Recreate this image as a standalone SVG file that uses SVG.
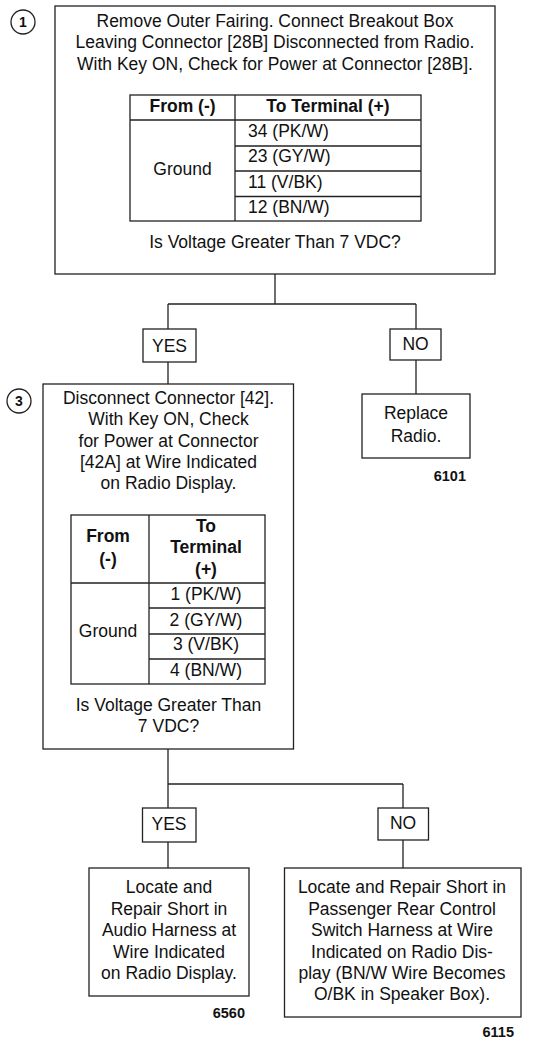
<svg xmlns="http://www.w3.org/2000/svg" width="552" height="1041" viewBox="0 0 552 1041">
<style>
.b{fill:#fff;stroke:#222;stroke-width:1.3}
.l{fill:none;stroke:#222;stroke-width:1.3}
text{font-family:"Liberation Sans",Arial,sans-serif;font-size:17.5px;fill:#111}
.c{text-anchor:middle}
.r{text-anchor:end}
.bd{font-weight:bold}
.n{font-weight:bold;font-size:14.5px}
.cn{font-weight:bold;font-size:14px;text-anchor:middle}
</style>
<rect width="552" height="1041" fill="#fff"/>
<g id="connectors">
<path class="l" d="M275,274V304M168,304H416M168,304V329M416,304V329M168,362V384M416,360V394"/>
<path class="l" d="M168,749V784M168,784H403M168,784V808M403,784V808M168,842V868M403,840V868"/>
</g>
<g id="step1">
<circle class="l" cx="23" cy="22" r="12"/>
<text class="cn" x="23" y="27">1</text>
<rect class="b" x="55" y="6" width="440" height="268"/>
<text class="c" x="275" y="27">Remove Outer Fairing. Connect Breakout Box</text>
<text class="c" x="275" y="48">Leaving Connector [28B] Disconnected from Radio.</text>
<text class="c" x="275" y="70">With Key ON, Check for Power at Connector [28B].</text>
<rect class="l" x="130" y="95" width="291" height="126"/>
<path class="l" d="M235,95V221M130,120H421M235,146H421M235,171H421M235,196.5H421"/>
<text class="c bd" x="182.5" y="112">From (-)</text>
<text class="c bd" x="328" y="112">To Terminal (+)</text>
<text class="c" x="182.5" y="175">Ground</text>
<text x="248" y="137">34 (PK/W)</text>
<text x="248" y="162">23 (GY/W)</text>
<text x="248" y="188">11 (V/BK)</text>
<text x="248" y="213">12 (BN/W)</text>
<text class="c" x="275" y="248">Is Voltage Greater Than 7 VDC?</text>
</g>
<g id="yes1">
<rect class="b" x="143" y="329" width="53" height="33"/>
<text class="c" x="169.5" y="352">YES</text>
</g>
<g id="no1">
<rect class="b" x="390" y="329" width="51" height="31"/>
<text class="c" x="415.5" y="350">NO</text>
</g>
<g id="replace">
<rect class="b" x="362" y="394" width="108" height="64"/>
<text class="c" x="416" y="419">Replace</text>
<text class="c" x="416" y="442">Radio.</text>
<text class="n r" x="466" y="481">6101</text>
</g>
<g id="step3">
<circle class="l" cx="19" cy="401" r="12"/>
<text class="cn" x="19" y="406">3</text>
<rect class="b" x="43" y="384" width="250.5" height="365"/>
<text class="c" x="168.5" y="404">Disconnect Connector [42].</text>
<text class="c" x="168.5" y="425">With Key ON, Check</text>
<text class="c" x="168.5" y="446.5">for Power at Connector</text>
<text class="c" x="168.5" y="467.5">[42A] at Wire Indicated</text>
<text class="c" x="168.5" y="488.5">on Radio Display.</text>
<rect class="l" x="71" y="515" width="194" height="169"/>
<path class="l" d="M149,515V684M71,583H265M149,608H265M149,634H265M149,659H265"/>
<text class="c bd" x="108" y="541.5">From</text>
<text class="c bd" x="108" y="565">(-)</text>
<text class="c bd" x="206" y="531.5">To</text>
<text class="c bd" x="206" y="552.5">Terminal</text>
<text class="c bd" x="206" y="575">(+)</text>
<text class="c" x="108" y="637">Ground</text>
<text class="c" x="206" y="600">1 (PK/W)</text>
<text class="c" x="206" y="625.5">2 (GY/W)</text>
<text class="c" x="206" y="650">3 (V/BK)</text>
<text class="c" x="206" y="675.5">4 (BN/W)</text>
<text class="c" x="168.5" y="710.5">Is Voltage Greater Than</text>
<text class="c" x="168.5" y="731.5">7 VDC?</text>
</g>
<g id="yes2">
<rect class="b" x="142.5" y="808" width="53.5" height="34"/>
<text class="c" x="169" y="830">YES</text>
</g>
<g id="no2">
<rect class="b" x="378" y="808" width="50.5" height="32"/>
<text class="c" x="403" y="828.5">NO</text>
</g>
<g id="audio">
<rect class="b" x="89" y="868" width="160" height="128"/>
<text class="c" x="169" y="893">Locate and</text>
<text class="c" x="169" y="915">Repair Short in</text>
<text class="c" x="169" y="936">Audio Harness at</text>
<text class="c" x="169" y="957.5">Wire Indicated</text>
<text class="c" x="169" y="978.5">on Radio Display.</text>
<text class="n r" x="245" y="1017.5">6560</text>
</g>
<g id="passenger">
<rect class="b" x="284.5" y="868" width="236.5" height="149"/>
<text class="c" x="402" y="893">Locate and Repair Short in</text>
<text class="c" x="402" y="915">Passenger Rear Control</text>
<text class="c" x="402" y="936">Switch Harness at Wire</text>
<text class="c" x="402" y="957.5">Indicated on Radio Dis-</text>
<text class="c" x="402" y="978.5">play (BN/W Wire Becomes</text>
<text class="c" x="402" y="1000">O/BK in Speaker Box).</text>
<text class="n r" x="514" y="1036.5">6115</text>
</g>
</svg>
